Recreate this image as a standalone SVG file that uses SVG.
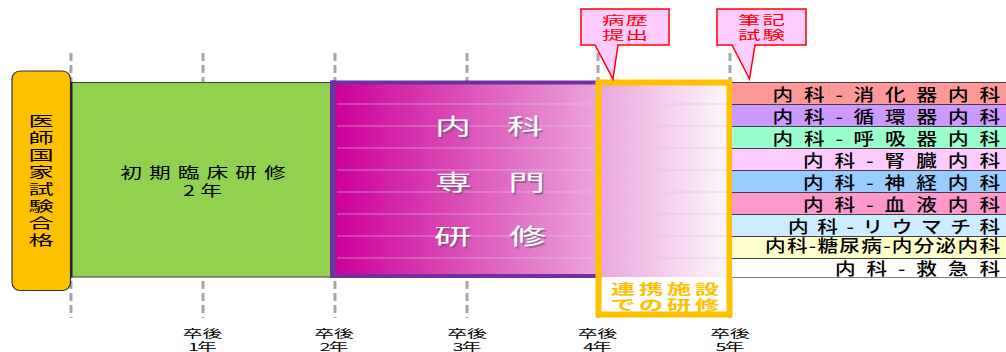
<svg xmlns="http://www.w3.org/2000/svg" width="1006" height="352" viewBox="0 0 1006 352">
<defs>
<linearGradient id="grad" gradientUnits="userSpaceOnUse" x1="336" y1="0" x2="729" y2="0">
<stop offset="0" stop-color="#CC0099"/>
<stop offset="1" stop-color="#FBF7FC"/>
</linearGradient>
<style>
text{font-family:"Noto Sans CJK JP","Noto Sans",sans-serif;}
.dash{stroke:#A6A6A6;stroke-width:3;stroke-dasharray:8 4;fill:none;}
.lbl{font-size:16.5px;font-weight:500;fill:#000;text-anchor:end;}
.row{stroke:#404040;stroke-width:1;}
.call{fill:#FFCCFF;stroke:#FF0000;stroke-width:1.5;}
.ct{font-size:12.5px;fill:#FF0000;text-anchor:middle;}
.yr{font-size:11px;fill:#000;text-anchor:middle;}
.wt{font-size:22px;fill:#FFFFFF;}
.sh{font-size:22px;fill:#555;opacity:0.55;}
.grid{stroke:#D9C9D9;stroke-opacity:0.6;stroke-width:1;}
</style>
</defs>
<rect width="1006" height="352" fill="#FFFFFF"/>

<g id="timeline">
<line class="dash" x1="71" y1="53" x2="71" y2="318"/>
<line class="dash" x1="203" y1="53" x2="203" y2="318"/>
<line class="dash" x1="335" y1="53" x2="335" y2="318"/>
<line class="dash" x1="467" y1="53" x2="467" y2="318"/>
<line class="dash" x1="598" y1="53" x2="598" y2="318"/>
<line class="dash" x1="730" y1="53" x2="730" y2="318"/>
</g>

<g id="years">
<text class="yr" transform="translate(202.5,337.5) scale(1.8,1)" textLength="22" lengthAdjust="spacing">卒後</text>
<text class="yr" transform="translate(202.5,350.5) scale(1.8,1)" textLength="16" lengthAdjust="spacing">1年</text>
<text class="yr" transform="translate(334,337.5) scale(1.8,1)" textLength="22" lengthAdjust="spacing">卒後</text>
<text class="yr" transform="translate(334,350.5) scale(1.8,1)" textLength="16" lengthAdjust="spacing">2年</text>
<text class="yr" transform="translate(467,337.5) scale(1.8,1)" textLength="22" lengthAdjust="spacing">卒後</text>
<text class="yr" transform="translate(467,350.5) scale(1.8,1)" textLength="16" lengthAdjust="spacing">3年</text>
<text class="yr" transform="translate(597.5,337.5) scale(1.8,1)" textLength="22" lengthAdjust="spacing">卒後</text>
<text class="yr" transform="translate(597.5,350.5) scale(1.8,1)" textLength="16" lengthAdjust="spacing">4年</text>
<text class="yr" transform="translate(730,337.5) scale(1.8,1)" textLength="22" lengthAdjust="spacing">卒後</text>
<text class="yr" transform="translate(730,350.5) scale(1.8,1)" textLength="16" lengthAdjust="spacing">5年</text>
</g>

<g id="pass">
<rect x="12" y="71" width="58.5" height="219.5" rx="8" fill="#FFC000" stroke="#333333" stroke-width="1.2"/>
<g transform="translate(41,0) scale(1.8,1)" font-size="14" text-anchor="middle" fill="#000">
<text x="0" y="126">医</text>
<text x="0" y="143">師</text>
<text x="0" y="160">国</text>
<text x="0" y="177">家</text>
<text x="0" y="194">試</text>
<text x="0" y="211.5">験</text>
<text x="0" y="228.5">合</text>
<text x="0" y="245.5">格</text>
</g>
</g>

<g id="initial">
<rect x="71.5" y="82.5" width="259" height="194.5" fill="#92D050" stroke="#404040" stroke-width="1"/>
<line x1="71.5" y1="82" x2="71.5" y2="277.5" stroke="#202020" stroke-width="2"/>
<text transform="translate(203,177.5) scale(1.45,1)" font-size="15" text-anchor="middle" textLength="114" lengthAdjust="spacing">初期臨床研修</text>
<text transform="translate(202.5,195.5) scale(1.45,1)" font-size="15" text-anchor="middle" textLength="27" lengthAdjust="spacing">2年</text>
</g>

<g id="senmon">
<rect x="333" y="82.5" width="396" height="194.5" fill="url(#grad)"/>
<g>
<line class="grid" x1="337" y1="104" x2="729" y2="104"/>
<line class="grid" x1="337" y1="126" x2="729" y2="126"/>
<line class="grid" x1="337" y1="148" x2="729" y2="148"/>
<line class="grid" x1="337" y1="170" x2="729" y2="170"/>
<line class="grid" x1="337" y1="192" x2="729" y2="192"/>
<line class="grid" x1="337" y1="214" x2="729" y2="214"/>
<line class="grid" x1="337" y1="236" x2="729" y2="236"/>
<line class="grid" x1="337" y1="258" x2="729" y2="258"/>
</g>
<path d="M598,82.5 H333 V276 H598" fill="none" stroke="#7030A0" stroke-width="4"/>
<rect x="330" y="80.5" width="6" height="197.5" fill="#7030A0"/>
<text class="sh" x="436.5" y="135.5" textLength="108" lengthAdjust="spacingAndGlyphs">内　科</text>
<text class="wt" x="435" y="134" textLength="108" lengthAdjust="spacingAndGlyphs">内　科</text>
<text class="sh" x="436.5" y="191.5" textLength="110" lengthAdjust="spacingAndGlyphs">専　門</text>
<text class="wt" x="435" y="190" textLength="110" lengthAdjust="spacingAndGlyphs">専　門</text>
<text class="sh" x="435.5" y="245.5" textLength="112" lengthAdjust="spacingAndGlyphs">研　修</text>
<text class="wt" x="434" y="244" textLength="112" lengthAdjust="spacingAndGlyphs">研　修</text>
</g>

<g id="renkei">
<rect x="598.5" y="82.5" width="131" height="232" fill="none" stroke="#FFC000" stroke-width="6"/>
<text transform="translate(665,294) scale(1.75,1)" font-size="14" font-weight="bold" fill="#FFC000" text-anchor="middle" textLength="62" lengthAdjust="spacing">連携施設</text>
<text transform="translate(665,310) scale(1.75,1)" font-size="14" font-weight="bold" fill="#FFC000" text-anchor="middle" textLength="62" lengthAdjust="spacing">での研修</text>
</g>

<g id="subspecialties">
<rect x="732" y="82" width="274" height="22" fill="#FF9999"/>
<rect x="732" y="104" width="274" height="22" fill="#CC99FF"/>
<rect x="732" y="126" width="274" height="22" fill="#99FFCC"/>
<rect x="732" y="148" width="274" height="22" fill="#FFCCFF"/>
<rect x="732" y="170" width="274" height="22" fill="#99CCFF"/>
<rect x="732" y="192" width="274" height="22" fill="#FF99CC"/>
<rect x="732" y="214" width="274" height="22" fill="#CCECFF"/>
<rect x="732" y="236" width="274" height="22" fill="#FFFFCC"/>
<rect x="732" y="258" width="274" height="20" fill="#FFFFFF"/>
<line class="row" x1="732" y1="82.5" x2="1006" y2="82.5"/>
<line class="row" x1="732" y1="104.5" x2="1006" y2="104.5"/>
<line class="row" x1="732" y1="126.5" x2="1006" y2="126.5"/>
<line class="row" x1="732" y1="148.5" x2="1006" y2="148.5"/>
<line class="row" x1="732" y1="170.5" x2="1006" y2="170.5"/>
<line class="row" x1="732" y1="192.5" x2="1006" y2="192.5"/>
<line class="row" x1="732" y1="214.5" x2="1006" y2="214.5"/>
<line class="row" x1="732" y1="236.5" x2="1006" y2="236.5"/>
<line class="row" x1="732" y1="258.5" x2="1006" y2="258.5"/>
<line x1="732" y1="277.5" x2="1006" y2="277.5" stroke="#808080" stroke-width="1"/>
<g transform="scale(1.25,1)">
<text class="lbl" x="800" y="101" textLength="182" lengthAdjust="spacing">内科-消化器内科</text>
<text class="lbl" x="800" y="123" textLength="182" lengthAdjust="spacing">内科-循環器内科</text>
<text class="lbl" x="800" y="145" textLength="182" lengthAdjust="spacing">内科-呼吸器内科</text>
<text class="lbl" x="800" y="167" textLength="157.6" lengthAdjust="spacing">内科-腎臓内科</text>
<text class="lbl" x="800" y="189" textLength="157.6" lengthAdjust="spacing">内科-神経内科</text>
<text class="lbl" x="800" y="211" textLength="157.6" lengthAdjust="spacing">内科-血液内科</text>
<text class="lbl" x="800" y="233" textLength="169.6" lengthAdjust="spacing">内科-リウマチ科</text>
<text class="lbl" x="800" y="251.8" font-size="12" textLength="188" lengthAdjust="spacing">内科-糖尿病-内分泌内科</text>
<text class="lbl" x="800" y="275" textLength="132" lengthAdjust="spacing">内科-救急科</text>
</g>
</g>

<g id="callout-byoreki">
<path class="call" d="M581,9 H669 V45 H618 L613,79 L595,45 H581 Z"/>
<text class="ct" transform="translate(625,24.5) scale(1.8,1)" textLength="25.5" lengthAdjust="spacing">病歴</text>
<text class="ct" transform="translate(625,39.5) scale(1.8,1)" textLength="25.5" lengthAdjust="spacing">提出</text>
</g>

<g id="callout-hikki">
<path class="call" d="M717,9 H806 V45 H755 L749.5,79 L732,45 H717 Z"/>
<text class="ct" transform="translate(761.5,24.5) scale(1.8,1)" textLength="26" lengthAdjust="spacing">筆記</text>
<text class="ct" transform="translate(761.5,39.5) scale(1.8,1)" textLength="26" lengthAdjust="spacing">試験</text>
</g>
</svg>
